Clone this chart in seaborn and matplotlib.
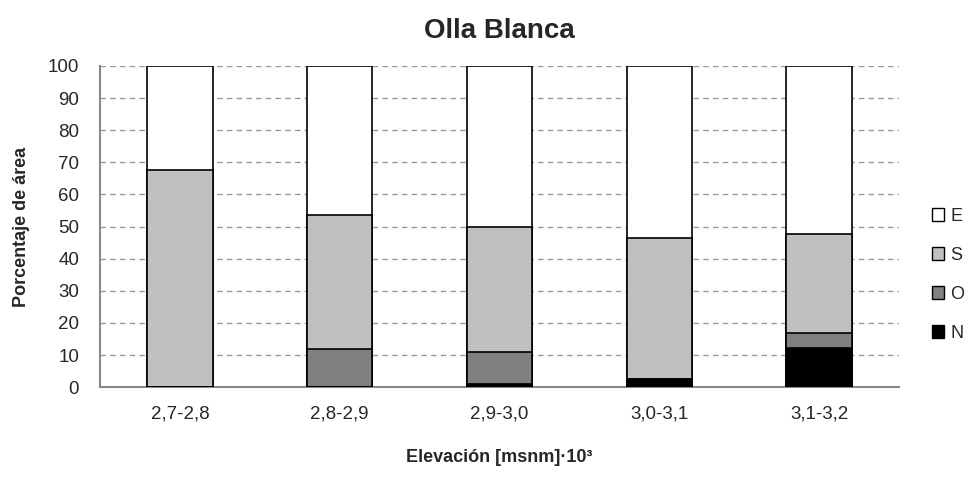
import numpy as np
import pandas as pd
import matplotlib
matplotlib.use("Agg")
import matplotlib.pyplot as plt
import seaborn as sns
from matplotlib.patches import Patch

# ---------------- DATA ----------------
elevacion = ["2,7-2,8", "2,8-2,9", "2,9-3,0", "3,0-3,1", "3,1-3,2"]
N = [0.0, 0.0, 1.0, 2.5, 12.3]
O = [0.0, 11.8, 10.0, 0.0, 4.5]
S = [67.7, 41.9, 38.8, 43.8, 31.0]
E = [32.3, 46.3, 50.2, 53.7, 52.2]

series = ["N", "O", "S", "E"]
colores = {"N": "#000000", "O": "#808080", "S": "#c0c0c0", "E": "#ffffff"}

df = pd.DataFrame({"elev": elevacion, "N": N, "O": O, "S": S, "E": E})

# ---------------- STYLE ----------------
sns.set_style("white")
plt.rcParams["font.family"] = ["Liberation Sans", "DejaVu Sans"]

fig = plt.figure(figsize=(9.7, 4.78), dpi=100)
ax = fig.add_axes([0.103, 0.19, 0.824, 0.672])

# stacked bars: draw cumulative totals, top series first
cum = df[series].cumsum(axis=1)
for s in reversed(series):
    sns.barplot(x=df["elev"], y=cum[s], color=colores[s], edgecolor="black",
                linewidth=1.2, width=0.41, ax=ax, saturation=1, zorder=3)

ax.set_ylim(0, 100)
ax.set_xlim(-0.5, 4.5)
ax.set_yticks(range(0, 101, 10))
ax.yaxis.grid(True, linestyle=(0, (4, 3)), color="#999999", linewidth=1)
ax.set_axisbelow(True)

# x ticks at category boundaries
ax.set_xticks(np.arange(-0.5, 5, 1), minor=True)
ax.tick_params(axis="x", which="major", length=0, pad=13, labelsize=13.5)
ax.tick_params(axis="x", which="minor", length=5, color="#888888", width=1)
ax.tick_params(axis="y", length=5, color="#888888", width=1, labelsize=13.5, pad=10)

for side in ["top", "right"]:
    ax.spines[side].set_visible(False)
for side in ["left", "bottom"]:
    ax.spines[side].set_color("#888888")
    ax.spines[side].set_linewidth(1.5)

ax.set_title("Olla Blanca", fontsize=20, fontweight="bold", pad=20)
ax.set_xlabel("Elevación [msnm]·10³", fontsize=13, fontweight="bold", labelpad=19)
ax.set_ylabel("Porcentaje de área", fontsize=13, fontweight="bold", labelpad=13)

handles = [Patch(facecolor=colores[s], edgecolor="black", label=s) for s in ["E", "S", "O", "N"]]
fig.legend(handles=handles, loc="center left", bbox_to_anchor=(0.953, 0.425),
           frameon=False, fontsize=13, handlelength=0.7, handleheight=0.7,
           handletextpad=0.35, labelspacing=1.22, borderaxespad=0)

fig.savefig("out.png", dpi=100)
